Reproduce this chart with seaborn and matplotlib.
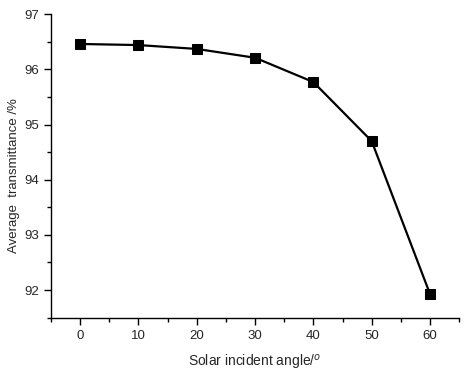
import matplotlib
matplotlib.use('Agg')
import matplotlib.pyplot as plt
from matplotlib.ticker import MultipleLocator
import seaborn as sns
import pandas as pd

# 입사각별 평균 투과율
angles = [0, 10, 20, 30, 40, 50, 60]
transmittance = [96.46, 96.44, 96.37, 96.21, 95.77, 94.70, 91.93]

df = pd.DataFrame({'angle': angles, 'trans': transmittance})

sns.set_style('ticks')
plt.rcParams['font.family'] = ['Liberation Sans', 'DejaVu Sans']

fig = plt.figure(figsize=(4.68, 3.73), dpi=100)
ax = fig.add_axes([0.109, 0.147, 0.872, 0.815])

sns.lineplot(data=df, x='angle', y='trans', color='black', linewidth=1.6,
             marker='s', markersize=7, markeredgecolor='black', ax=ax)

ax.set_xlim(-5, 65)
ax.set_ylim(91.49, 97)
ax.xaxis.set_major_locator(MultipleLocator(10))
ax.xaxis.set_minor_locator(MultipleLocator(5))
ax.yaxis.set_major_locator(MultipleLocator(1))
ax.yaxis.set_minor_locator(MultipleLocator(0.5))
ax.tick_params(which='major', direction='out', length=5, width=1, labelsize=9.5, color='black')
ax.tick_params(which='minor', direction='out', length=3, width=1, color='black')

sns.despine(ax=ax)
for s in ['left', 'bottom']:
    ax.spines[s].set_linewidth(1)
    ax.spines[s].set_color('black')

ax.set_xlabel('Solar incident angle/$^o$', fontsize=10, labelpad=8)
ax.set_ylabel('Average  transmittance /%', fontsize=9.5)
ax.yaxis.set_label_coords(-0.075, 0.47)

fig.savefig('out.png', dpi=100)
